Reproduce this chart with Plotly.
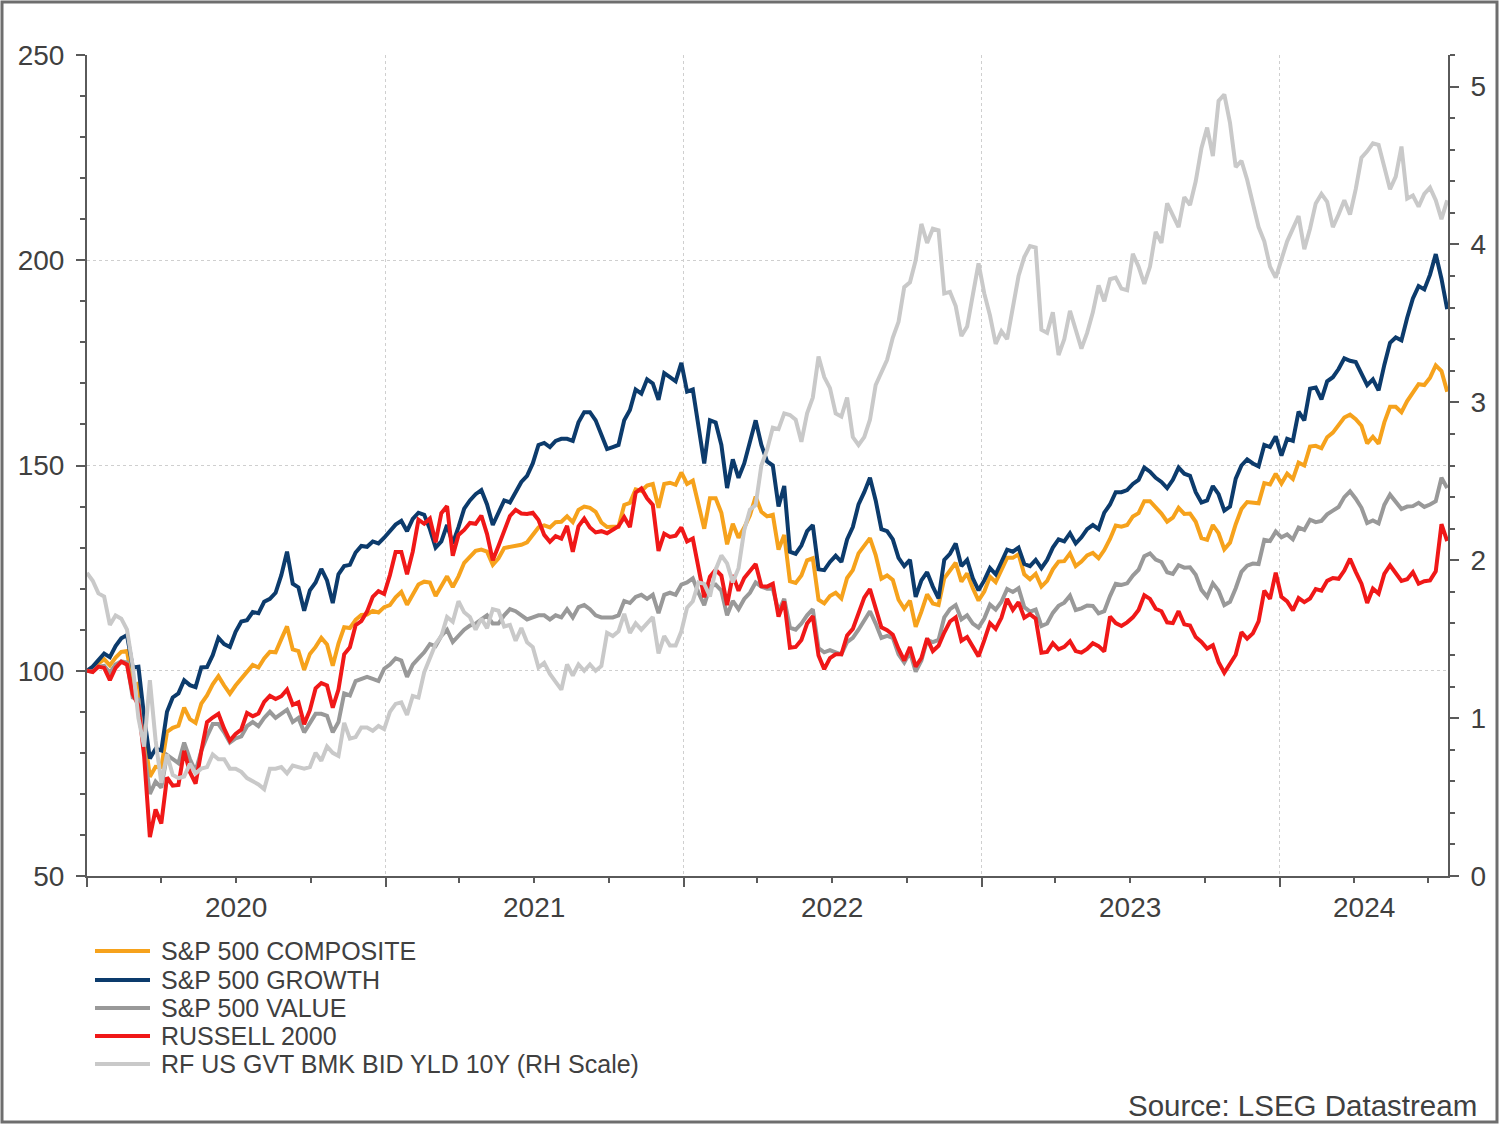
import pandas as pd
import plotly.graph_objects as go

# ---------------- data (weekly, Wednesdays, rebased 1 Jan 2020 = 100) ----------------
dates = pd.date_range("2020-01-01", periods=239, freq="7D")

sp500_composite = [
    # 2020
    100.0, 100.7, 101.8, 102.8, 101.3, 103.2, 104.6, 104.8, 96.4, 96.9, 84.8, 74.2, 76.6,
    76.5, 85.1, 86.1, 86.6, 91.0, 88.2, 87.3, 92.0, 94.0, 96.7, 98.7, 96.4, 94.4,
    96.4, 98.1, 99.9, 101.4, 100.8, 103.0, 104.6, 104.5, 107.7, 110.8, 105.2, 104.8, 100.2,
    104.1, 105.8, 108.0, 106.4, 101.2, 106.6, 110.6, 110.4, 112.4, 113.6, 113.7, 114.6, 114.2, 115.5,
    # 2021
    116.0, 117.9, 119.2, 116.1, 118.6, 121.0, 121.7, 121.5, 118.2, 120.7, 123.0, 120.4, 123.0,
    126.3, 127.7, 129.2, 129.5, 129.0, 125.8, 127.4, 129.9, 130.2, 130.6, 130.7, 131.3, 133.0,
    134.9, 135.4, 134.9, 136.2, 136.3, 137.6, 136.2, 139.2, 140.0, 139.7, 138.7, 136.1, 135.0,
    135.1, 135.1, 140.4, 140.9, 144.2, 143.8, 145.1, 145.5, 139.7, 145.5, 145.8, 145.3, 148.3,
    # 2022
    145.5, 146.3, 140.3, 134.6, 142.0, 142.0, 138.5, 130.8, 135.8, 132.4, 134.9, 137.9, 142.4,
    138.7, 137.6, 138.0, 129.5, 133.1, 121.8, 121.4, 123.2, 126.9, 127.4, 117.3, 116.4, 118.2,
    119.0, 117.6, 122.6, 124.5, 128.6, 130.3, 132.3, 128.2, 122.4, 123.2, 122.1, 117.3, 115.1,
    117.1, 110.7, 114.4, 118.6, 116.4, 116.0, 122.5, 124.6, 126.3, 121.7, 123.7, 120.1, 117.1,
    # 2023
    119.3, 122.9, 121.6, 124.3, 127.5, 127.5, 128.4, 123.5, 122.3, 123.6, 120.5, 121.9, 124.7,
    126.6, 126.7, 128.6, 125.5, 126.6, 128.1, 128.7, 127.4, 129.4, 132.1, 135.4, 135.1, 135.5,
    137.6, 138.4, 141.3, 141.3, 139.7, 138.3, 136.3, 137.3, 139.7, 138.2, 138.3, 136.3, 132.3,
    131.9, 135.5, 133.5, 129.6, 131.2, 135.7, 139.4, 141.1, 140.9, 140.8, 145.7, 145.4, 148.0,
    # 2024
    145.6, 148.0, 146.7, 150.7, 150.0, 154.6, 154.8, 154.2, 156.9, 158.0, 159.9, 161.7, 162.4,
    161.3, 159.7, 155.4, 157.0, 155.3, 160.5, 164.3, 164.3, 163.0, 165.7, 167.8, 169.8, 169.6,
    171.4, 174.4, 173.0, 168.0,
]

sp500_growth = [
    # 2020
    100.0, 101.0, 102.6, 104.2, 103.3, 106.0, 107.9, 108.7, 100.8, 101.0, 88.8, 78.6, 81.0,
    80.6, 90.0, 93.5, 94.5, 97.7, 96.5, 96.0, 100.8, 100.9, 103.8, 108.0, 106.5, 105.8,
    109.5, 112.0, 112.3, 114.3, 114.0, 116.8, 117.5, 119.0, 123.3, 129.0, 121.2, 120.3, 114.6,
    119.6, 121.5, 124.8, 122.0, 116.5, 123.5, 125.5, 125.8, 128.8, 130.4, 130.2, 131.5, 131.0, 132.4,
    # 2021
    134.0, 135.6, 136.5, 134.0, 137.0, 138.5, 138.0, 134.5, 130.0, 131.5, 135.5, 131.0, 135.0,
    139.5, 141.5, 143.0, 144.0, 140.5, 135.5, 138.5, 141.5, 141.0, 143.5, 146.0, 147.5, 150.5,
    155.0, 155.5, 154.5, 156.0, 156.5, 156.5, 156.0, 160.5, 163.0, 163.0, 161.0, 157.5, 154.0,
    154.5, 155.0, 161.0, 163.5, 168.5, 167.5, 171.0, 170.0, 166.0, 172.5, 171.5, 170.5, 175.0,
    # 2022
    168.0, 168.5, 160.0, 150.5, 161.0, 160.5, 155.0, 144.5, 151.5, 147.0, 150.5, 155.5, 161.0,
    155.0, 151.0, 150.0, 140.0, 145.0, 129.0, 128.5, 130.5, 134.0, 135.5, 124.7, 124.5, 126.5,
    128.0, 126.5, 132.0, 135.0, 140.5, 143.5, 147.0, 141.5, 134.5, 134.0, 132.0, 127.5, 125.5,
    127.0, 118.0, 122.0, 124.0, 120.5, 117.6, 127.0, 128.5, 131.0, 125.5, 127.0, 122.5, 119.6,
    # 2023
    122.0, 125.0, 123.5, 126.5, 129.5, 129.0, 130.0, 126.0, 125.5, 127.0, 125.0, 127.0, 130.0,
    132.0, 131.5, 133.5, 131.0, 132.5, 134.5, 135.5, 134.5, 138.5, 140.5, 143.5, 143.5, 144.0,
    145.5, 146.5, 149.5, 148.5, 147.0, 146.0, 144.5, 146.5, 149.5, 148.0, 147.5, 143.5, 141.0,
    141.5, 145.0, 143.0, 139.0, 140.0, 146.8, 150.0, 151.5, 150.5, 149.8, 155.0, 154.5, 157.1,
    # 2024
    152.4, 156.5, 156.0, 163.1, 161.0, 168.7, 169.0, 166.1, 170.5, 171.5, 173.5, 176.1, 175.5,
    175.2, 172.6, 169.6, 171.0, 168.3, 174.5, 179.9, 181.2, 180.5, 186.0, 190.7, 193.7, 192.9,
    196.5, 201.5, 195.5, 188.1,
]

sp500_value = [
    # 2020
    100.0, 99.8, 101.0, 101.2, 99.5, 101.5, 102.3, 102.0, 93.5, 93.0, 80.5, 70.0, 73.0,
    71.5, 79.5, 78.5, 77.5, 82.5, 78.5, 75.5, 80.5, 84.0, 87.0, 87.0, 85.0, 82.5,
    83.5, 84.0, 86.5, 87.5, 86.5, 88.5, 90.0, 88.5, 89.5, 90.5, 87.5, 88.5, 85.0,
    87.5, 89.5, 89.5, 89.0, 85.0, 87.5, 94.5, 94.0, 97.5, 98.0, 98.5, 98.0, 97.5, 100.5,
    # 2021
    101.5, 103.0, 102.5, 98.5, 101.5, 103.0, 104.5, 106.5, 106.0, 108.5, 110.0, 107.0, 108.5,
    110.0, 111.0, 111.5, 112.5, 113.5, 111.5, 111.5, 113.5, 115.0, 114.5, 113.5, 112.5, 113.0,
    113.5, 113.5, 112.5, 113.5, 113.0, 115.0, 113.0, 115.5, 116.0, 115.0, 113.5, 113.0, 113.0,
    113.0, 113.5, 117.0, 116.5, 118.0, 118.5, 117.5, 118.5, 114.0, 118.5, 119.0, 118.5, 121.0,
    # 2022
    121.5, 122.5, 119.0, 116.0, 120.5, 121.0, 119.5, 113.5, 117.0, 115.0, 117.5, 119.0, 121.5,
    120.5, 120.0, 120.0, 114.5, 117.5, 110.5, 110.0, 111.5, 113.5, 115.0, 105.5, 104.5, 105.0,
    104.5, 104.0, 107.0, 108.0, 110.0, 112.5, 114.5, 111.5, 108.0, 108.5, 108.0, 104.0, 102.0,
    104.5, 99.8, 102.5, 107.5, 107.0, 107.5, 113.0, 115.0, 116.0, 112.5, 113.5, 111.5, 110.5,
    # 2023
    112.7, 116.1, 114.9, 116.8, 119.9, 119.2, 120.1, 115.5, 114.4, 114.9, 110.9, 111.5, 114.1,
    115.8, 116.6, 118.3, 114.8, 115.2, 115.9, 115.8, 114.0, 114.5, 118.2, 121.2, 120.9, 121.3,
    123.2, 124.6, 127.9, 128.6, 127.1, 126.5, 124.0, 123.6, 125.7, 125.1, 125.2, 123.4, 119.7,
    118.0, 121.3, 119.5, 116.0, 116.8, 120.1, 124.1, 125.6, 126.1, 126.0, 131.9, 131.6, 133.9,
    # 2024
    132.5, 133.2, 132.0, 134.9, 134.3, 136.8, 136.2, 136.5, 138.1, 139.0, 139.9, 142.3, 143.7,
    141.9, 139.7, 136.0, 136.6, 135.9, 140.4, 142.9, 141.3, 139.4, 140.0, 140.1, 140.9, 139.9,
    140.5, 141.3, 147.0, 144.5,
]

russell_2000 = [
    # 2020
    100.0, 99.7, 101.0, 100.7, 97.7, 100.7, 102.2, 101.5, 94.3, 91.6, 79.1, 59.5, 66.2,
    62.8, 74.0, 72.0, 72.2, 80.5, 75.3, 72.5, 80.4, 87.5, 88.6, 89.5, 85.9, 83.0,
    84.6, 85.7, 89.7, 88.9, 89.6, 92.4, 93.9, 93.1, 93.8, 95.4, 91.7, 92.3, 87.0,
    90.4, 95.7, 97.0, 96.4, 91.0, 95.4, 104.0, 105.7, 111.1, 112.1, 114.4, 118.0, 119.4, 118.7,
    # 2021
    123.3, 128.9, 128.9, 123.5, 129.0, 136.8, 135.8, 137.1, 131.3, 138.4, 140.1, 128.0, 133.1,
    134.3, 136.0, 135.8, 137.8, 133.3, 126.9, 130.4, 134.1, 137.7, 139.2, 138.3, 138.2, 138.5,
    136.7, 133.1, 131.4, 132.8, 132.2, 135.3, 129.0, 135.2, 137.1, 134.9, 133.7, 134.0, 133.5,
    134.3, 135.2, 137.4, 135.0, 143.4, 144.4, 142.0, 140.4, 129.2, 133.4, 132.6, 132.9, 134.9,
    # 2022
    131.5, 132.2, 124.5, 117.9, 122.9, 124.6, 123.2, 116.0, 123.3, 119.5, 122.6, 124.2, 126.0,
    120.6, 120.5, 121.2, 113.2, 116.9, 105.6, 105.8, 107.5, 111.5, 113.3, 103.7, 100.4, 103.1,
    104.0, 104.0, 108.6, 110.2, 114.2, 117.8, 119.9, 115.6, 110.6, 109.9, 108.8, 105.3, 102.5,
    105.8, 101.0, 103.1, 107.9, 104.8, 106.1, 109.3, 112.0, 113.0, 107.3, 108.2, 105.8, 103.5,
    # 2023
    107.4, 111.6, 110.2, 112.9, 117.5, 114.8, 116.7, 112.9, 113.8, 112.7, 104.4, 104.6, 106.7,
    105.2, 105.8, 107.2, 104.8, 104.4, 105.3, 106.7, 106.0, 104.7, 113.2, 111.6, 110.9, 111.8,
    113.0, 114.8, 118.4, 117.5, 115.1, 114.5, 111.8, 111.6, 114.5, 111.3, 111.0, 108.2, 107.0,
    105.4, 106.2, 102.1, 99.5, 101.5, 103.9, 109.4, 107.8, 109.1, 112.0, 119.5, 117.5, 123.9,
    # 2024
    118.0, 116.9, 114.7, 117.7, 116.7, 117.6, 119.9, 119.5, 121.9, 122.6, 122.4, 124.4, 127.3,
    124.1, 121.2, 116.5, 120.0, 118.8, 123.6, 125.7, 123.8, 121.9, 122.3, 124.0, 121.2, 121.8,
    122.0, 124.2, 135.7, 131.6,
]

us_10y_yield = [
    # 2020
    1.92, 1.87, 1.79, 1.77, 1.59, 1.65, 1.63, 1.56, 1.33, 1.00, 0.82, 1.24, 0.86,
    0.59, 0.77, 0.64, 0.62, 0.63, 0.71, 0.65, 0.68, 0.69, 0.77, 0.74, 0.74, 0.68,
    0.68, 0.66, 0.62, 0.60, 0.58, 0.55, 0.68, 0.68, 0.69, 0.65, 0.70, 0.69, 0.68,
    0.69, 0.78, 0.73, 0.82, 0.78, 0.76, 0.97, 0.87, 0.88, 0.94, 0.94, 0.92, 0.95, 0.93,
    # 2021
    1.04, 1.09, 1.10, 1.02, 1.14, 1.13, 1.29, 1.38, 1.47, 1.52, 1.64, 1.61, 1.74,
    1.67, 1.64, 1.56, 1.63, 1.57, 1.69, 1.68, 1.58, 1.59, 1.49, 1.57, 1.48, 1.45,
    1.32, 1.35, 1.28, 1.23, 1.18, 1.34, 1.27, 1.34, 1.30, 1.34, 1.30, 1.33, 1.54,
    1.52, 1.55, 1.66, 1.54, 1.60, 1.56, 1.60, 1.64, 1.41, 1.52, 1.46, 1.46, 1.55,
    # 2022
    1.70, 1.74, 1.86, 1.85, 1.77, 1.94, 2.03, 1.98, 1.86, 1.95, 2.19, 2.32, 2.35,
    2.60, 2.70, 2.84, 2.83, 2.93, 2.92, 2.89, 2.75, 2.93, 3.03, 3.29, 3.16, 3.09,
    2.93, 2.91, 3.03, 2.78, 2.73, 2.78, 2.89, 3.11, 3.19, 3.27, 3.41, 3.51, 3.73,
    3.76, 3.90, 4.13, 4.01, 4.10, 4.09, 3.69, 3.70, 3.61, 3.42, 3.48, 3.68, 3.88,
    # 2023
    3.69, 3.55, 3.37, 3.45, 3.40, 3.61, 3.80, 3.92, 3.99, 3.98, 3.46, 3.44, 3.57,
    3.30, 3.40, 3.58, 3.45, 3.34, 3.44, 3.57, 3.74, 3.64, 3.78, 3.79, 3.72, 3.71,
    3.94, 3.86, 3.75, 3.86, 4.08, 4.01, 4.26, 4.19, 4.11, 4.30, 4.25, 4.40, 4.61,
    4.74, 4.56, 4.91, 4.95, 4.77, 4.49, 4.53, 4.41, 4.26, 4.11, 4.02, 3.86, 3.79,
    # 2024
    3.91, 4.02, 4.10, 4.18, 3.97, 4.10, 4.26, 4.32, 4.27, 4.11, 4.19, 4.28, 4.19,
    4.35, 4.55, 4.59, 4.64, 4.63, 4.49, 4.35, 4.43, 4.62, 4.29, 4.31, 4.24, 4.32,
    4.36, 4.28, 4.16, 4.28,
]

series_names = [
    "S&P 500 COMPOSITE",
    "S&P 500 GROWTH",
    "S&P 500 VALUE",
    "RUSSELL 2000",
    "RF US GVT BMK BID YLD 10Y (RH Scale)",
]
series_colors = ["#F6A21C", "#0C3B6C", "#999999", "#F01818", "#C9C9C9"]

year_labels = ["2020", "2021", "2022", "2023", "2024"]
year_label_dates = ["2020-07-01", "2021-07-02", "2022-07-02", "2023-07-02", "2024-04-13"]
source_text = "Source: LSEG Datastream"

# ---------------- layout geometry helpers ----------------
FIG_W, FIG_H = 1500, 1125
PL, PR, PT, PB = 87, 1448, 55, 876      # plot area in pixels
PW, PH = PR - PL, PB - PT


def px(xp):
    return (xp - PL) / PW


def py(yp):
    return (PB - yp) / PH


TEXT = "#404040"
AXIS = "#5a5a5a"
GRID = "#cfcfcf"
FONT = "Arial, Liberation Sans, Helvetica, sans-serif"

fig = go.Figure()

# draw the yield (RH scale) first so equity lines sit on top
fig.add_trace(go.Scatter(x=dates, y=us_10y_yield, name=series_names[4], yaxis="y2",
                         mode="lines", line=dict(color=series_colors[4], width=4),
                         showlegend=False))
for name, vals, col in zip(series_names[:4],
                           [sp500_composite, sp500_growth, sp500_value, russell_2000],
                           series_colors[:4]):
    fig.add_trace(go.Scatter(x=dates, y=vals, name=name, mode="lines",
                             line=dict(color=col, width=4), showlegend=False))

shapes = []
annotations = []

# outer frame
shapes.append(dict(type="rect", xref="paper", yref="paper",
                   x0=px(2), x1=px(1497), y0=py(1122), y1=py(2),
                   line=dict(color="#6e6e6e", width=3), fillcolor="rgba(0,0,0,0)", layer="above"))

# manual legend
leg_rows = [951, 980, 1008, 1036, 1064]
for name, col, yrow in zip(series_names, series_colors, leg_rows):
    shapes.append(dict(type="line", xref="paper", yref="paper",
                       x0=px(95), x1=px(150), y0=py(yrow), y1=py(yrow),
                       line=dict(color=col, width=4)))
    annotations.append(dict(text=name, xref="paper", yref="paper", x=px(159), y=py(yrow),
                            xanchor="left", yanchor="middle", showarrow=False,
                            font=dict(size=25, color=TEXT, family=FONT)))

# year labels centred in each year
for lab, d in zip(year_labels, year_label_dates):
    annotations.append(dict(text=lab, xref="x", yref="paper", x=d, y=py(907),
                            xanchor="center", yanchor="middle", showarrow=False,
                            font=dict(size=28, color=TEXT, family=FONT)))

annotations.append(dict(text=source_text, xref="paper", yref="paper", x=px(1479), y=py(1105),
                        xanchor="right", yanchor="middle", showarrow=False,
                        font=dict(size=29.5, color=TEXT, family=FONT)))

fig.update_layout(
    width=FIG_W, height=FIG_H, autosize=False,
    margin=dict(l=PL, r=FIG_W - PR, t=PT, b=FIG_H - PB, pad=0),
    paper_bgcolor="white", plot_bgcolor="white",
    font=dict(family=FONT, color=TEXT),
    showlegend=False,
    shapes=shapes, annotations=annotations,
    xaxis=dict(
        type="date", range=["2020-01-01", "2024-07-25"],
        tick0="2020-01-01", dtick="M12", showticklabels=False,
        ticks="outside", ticklen=9, tickwidth=2, tickcolor=AXIS,
        showline=True, linecolor=AXIS, linewidth=2,
        showgrid=True, gridcolor=GRID, gridwidth=1, griddash="dot",
        zeroline=False,
        minor=dict(tick0="2020-01-01", dtick="M3", ticks="outside", ticklen=5,
                   tickwidth=2, tickcolor=AXIS, showgrid=False),
    ),
    yaxis=dict(
        range=[50, 250], tick0=50, dtick=50,
        ticks="outside", ticklen=9, tickwidth=2, tickcolor=AXIS,
        showline=True, linecolor=AXIS, linewidth=2,
        showgrid=True, gridcolor=GRID, gridwidth=1, griddash="dot",
        zeroline=False, ticklabelstandoff=6,
        tickfont=dict(size=28, color=TEXT, family=FONT),
        minor=dict(dtick=10, ticks="outside", ticklen=5, tickwidth=2,
                   tickcolor=AXIS, showgrid=False),
    ),
    yaxis2=dict(
        overlaying="y", side="right", range=[0, 5.2], tick0=0, dtick=1,
        ticks="outside", ticklen=9, tickwidth=2, tickcolor=AXIS,
        showline=True, linecolor=AXIS, linewidth=2,
        showgrid=False, zeroline=False, ticklabelstandoff=6,
        tickfont=dict(size=28, color=TEXT, family=FONT),
        minor=dict(dtick=0.2, ticks="outside", ticklen=5, tickwidth=2,
                   tickcolor=AXIS, showgrid=False),
    ),
)

fig.write_html("out.html")
